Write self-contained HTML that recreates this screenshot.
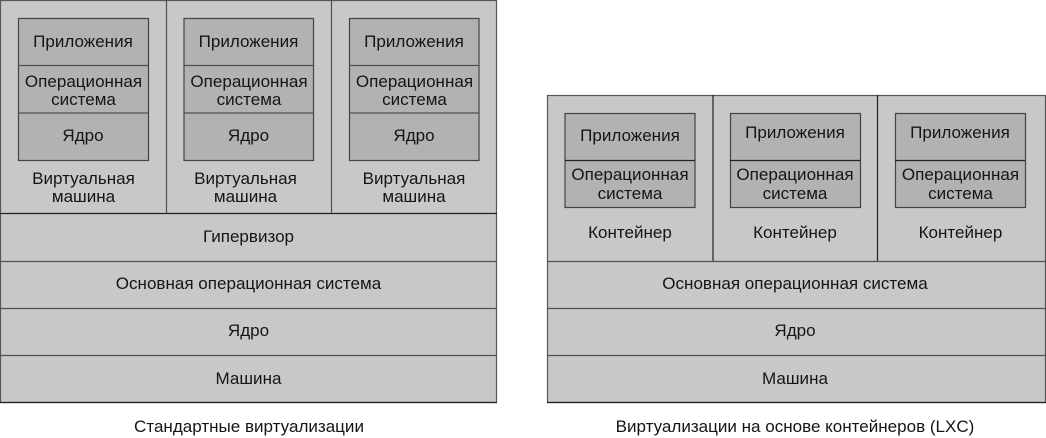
<!DOCTYPE html>
<html lang="ru">
<head>
<meta charset="utf-8">
<style>
html,body{margin:0;padding:0;background:#fff;width:1046px;height:438px;overflow:hidden}
svg{display:block}
text{font-family:"Liberation Sans",sans-serif;font-size:17.05px;fill:#151515;text-anchor:middle}
.o{fill:#c8c8c8;stroke:#555;stroke-width:1.2}
.b{fill:#b2b2b2;stroke:#444;stroke-width:1.2}
.l{stroke:#505050;stroke-width:1.2;fill:none}
.d{stroke:#222;stroke-width:1.2;fill:none}
</style>
</head>
<body>
<svg width="1046" height="438" viewBox="0 0 1046 438" xmlns="http://www.w3.org/2000/svg">
<!-- Left -->
<rect class="o" x="0.5" y="0.5" width="496" height="402"/>
<path class="d" d="M0 213.5H497M0 402.5H497"/>
<path class="l" d="M166.500 0V213M331.500 0V213M0 261.500H497M0 308.500H497M0 355.500H497"/>

<rect class="b" x="18.500" y="18.500" width="130" height="142"/>
<path class="l" d="M18 65.500H148M18 113H148"/>
<rect class="b" x="184" y="18.500" width="129.500" height="142"/>
<path class="l" d="M184 65.500H313M184 113H313"/>
<rect class="b" x="349.500" y="18.500" width="129.500" height="142"/>
<path class="l" d="M349 65.500H479M349 113H479"/>

<text x="83" y="47">Приложения</text>
<text x="83.500" y="87">Операционная</text>
<text x="83.500" y="105">система</text>
<text x="83" y="141">Ядро</text>
<text x="83.500" y="184">Виртуальная</text>
<text x="83.500" y="202">машина</text>

<text x="248.500" y="47">Приложения</text>
<text x="249" y="87">Операционная</text>
<text x="249" y="105">система</text>
<text x="248.500" y="141">Ядро</text>
<text x="245.500" y="184">Виртуальная</text>
<text x="245.500" y="202">машина</text>

<text x="414" y="47">Приложения</text>
<text x="414.500" y="87">Операционная</text>
<text x="414.500" y="105">система</text>
<text x="414" y="141">Ядро</text>
<text x="414" y="184">Виртуальная</text>
<text x="414" y="202">машина</text>

<text x="248.500" y="242">Гипервизор</text>
<text x="248.500" y="289">Основная операционная система</text>
<text x="248.500" y="336">Ядро</text>
<text x="248.500" y="384">Машина</text>
<text x="249" y="432">Стандартные виртуализации</text>

<!-- Right -->
<rect class="o" x="547.500" y="95.500" width="498" height="307"/>
<path class="d" d="M547 402.500H1046M713 95V261M877.500 95V261"/>
<path class="l" d="M547 261.500H1046M547 308.500H1046M547 355.500H1046"/>

<rect class="b" x="565" y="113.500" width="130" height="94"/>
<path class="d" d="M565 160.500H695"/>
<rect class="b" x="730.500" y="113.500" width="130" height="94"/>
<path class="d" d="M730 160.500H860"/>
<rect class="b" x="895.500" y="113.500" width="130" height="94"/>
<path class="d" d="M895 160.500H1025"/>

<text x="630" y="141">Приложения</text>
<text x="630" y="180">Операционная</text>
<text x="630" y="199">система</text>
<text x="630" y="238">Контейнер</text>

<text x="795" y="138">Приложения</text>
<text x="795" y="180">Операционная</text>
<text x="795" y="199">система</text>
<text x="795" y="238">Контейнер</text>

<text x="960" y="138">Приложения</text>
<text x="960.500" y="180">Операционная</text>
<text x="960.500" y="199">система</text>
<text x="960.500" y="238">Контейнер</text>

<text x="795" y="289">Основная операционная система</text>
<text x="795" y="336">Ядро</text>
<text x="795" y="384">Машина</text>
<text x="795" y="432">Виртуализации на основе контейнеров (LXC)</text>
</svg>
</body>
</html>
